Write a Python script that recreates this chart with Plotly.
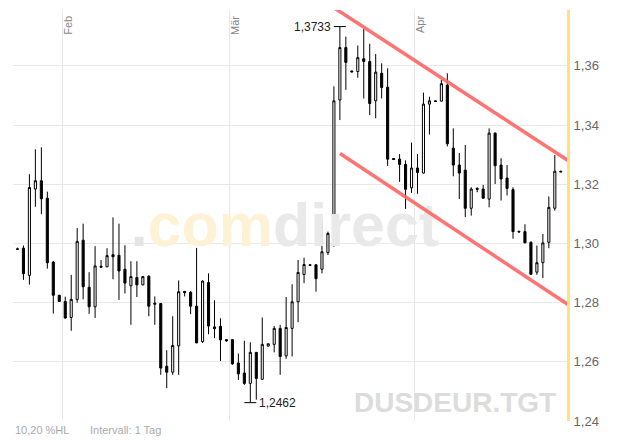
import numpy as np
import pandas as pd
import plotly.graph_objects as go

# ---- data ----
start_date = "2014-01-24 12:00"
opens = [1.2982, 1.2984, 1.2892, 1.3184, 1.3212, 1.3153, 1.2937, 1.2825, 1.2804, 1.2750,
         1.2811, 1.3011, 1.2852, 1.2786, 1.2923, 1.2921, 1.2962, 1.2960, 1.2913, 1.2857,
         1.2885, 1.2860, 1.2889, 1.2798, 1.2797, 1.2585, 1.2565, 1.2654, 1.2838, 1.2835,
         1.2788, 1.2668, 1.2868, 1.2718, 1.2720, 1.2675, 1.2675, 1.2596, 1.2562, 1.2527,
         1.2632, 1.2541, 1.2653, 1.2659, 1.2713, 1.2620, 1.2713, 1.2803, 1.2895, 1.2928,
         1.2928, 1.2913, 1.2969, 1.3030, 1.3485, 1.3662, 1.3583, 1.3581, 1.3624, 1.3615,
         1.3482, 1.3575, 1.3528, 1.3287, 1.3285, 1.3267, 1.3188, 1.3255, 1.3238, 1.3471,
         1.3482, 1.3481, 1.3535, 1.3322, 1.3265, 1.3248, 1.3119, 1.3186, 1.3184, 1.3150,
         1.3373, 1.3265, 1.3221, 1.3182, 1.3041, 1.3040, 1.3004, 1.2903, 1.2935, 1.3004,
         1.3119, 1.3244]
highs = [1.2986, 1.2993, 1.3234, 1.3318, 1.3325, 1.3175, 1.2941, 1.2826, 1.2820, 1.2894,
         1.3052, 1.3067, 1.2903, 1.2991, 1.2944, 1.2984, 1.3088, 1.3067, 1.2994, 1.2940,
         1.2940, 1.2890, 1.2893, 1.2821, 1.2799, 1.2639, 1.2754, 1.2875, 1.2839, 1.2839,
         1.2985, 1.2875, 1.2899, 1.2808, 1.2747, 1.2677, 1.2676, 1.2628, 1.2671, 1.2666,
         1.2633, 1.2750, 1.2662, 1.2721, 1.2725, 1.2819, 1.2862, 1.2944, 1.2952, 1.2930,
         1.2929, 1.3070, 1.3040, 1.3531, 1.3733, 1.3699, 1.3584, 1.3669, 1.3725, 1.3675,
         1.3640, 1.3609, 1.3592, 1.3288, 1.3302, 1.3281, 1.3341, 1.3302, 1.3510, 1.3496,
         1.3483, 1.3553, 1.3575, 1.3389, 1.3306, 1.3333, 1.3190, 1.3190, 1.3198, 1.3389,
         1.3375, 1.3288, 1.3265, 1.3190, 1.3043, 1.3065, 1.3007, 1.2993, 1.3032, 1.3159,
         1.3299, 1.3246]
lows = [1.2979, 1.2877, 1.2861, 1.3124, 1.3099, 1.2915, 1.2763, 1.2803, 1.2746, 1.2705,
        1.2800, 1.2811, 1.2762, 1.2748, 1.2919, 1.2920, 1.2879, 1.2809, 1.2831, 1.2725,
        1.2819, 1.2859, 1.2754, 1.2725, 1.2556, 1.2511, 1.2556, 1.2556, 1.2821, 1.2761,
        1.2663, 1.2664, 1.2693, 1.2680, 1.2603, 1.2668, 1.2590, 1.2539, 1.2522, 1.2462,
        1.2472, 1.2539, 1.2652, 1.2632, 1.2556, 1.2610, 1.2618, 1.2734, 1.2866, 1.2925,
        1.2837, 1.2899, 1.2961, 1.2989, 1.3417, 1.3519, 1.3578, 1.3560, 1.3490, 1.3434,
        1.3423, 1.3490, 1.3262, 1.3282, 1.3208, 1.3117, 1.3171, 1.3168, 1.3237, 1.3368,
        1.3479, 1.3480, 1.3328, 1.3227, 1.3150, 1.3089, 1.3094, 1.3173, 1.3152, 1.3122,
        1.3201, 1.3145, 1.3162, 1.3016, 1.3037, 1.3001, 1.2894, 1.2894, 1.2883, 1.2984,
        1.3111, 1.3241]
closes = [1.2980, 1.2898, 1.3189, 1.3212, 1.3151, 1.2935, 1.2825, 1.2804, 1.2748, 1.2811,
          1.3007, 1.2854, 1.2786, 1.2924, 1.2920, 1.2959, 1.2955, 1.2907, 1.2866, 1.2888,
          1.2860, 1.2888, 1.2788, 1.2795, 1.2579, 1.2565, 1.2655, 1.2837, 1.2834, 1.2788,
          1.2664, 1.2873, 1.2721, 1.2712, 1.2674, 1.2671, 1.2593, 1.2559, 1.2527, 1.2632,
          1.2544, 1.2659, 1.2661, 1.2713, 1.2618, 1.2716, 1.2803, 1.2902, 1.2929, 1.2926,
          1.2881, 1.2972, 1.3034, 1.3482, 1.3662, 1.3612, 1.3580, 1.3628, 1.3615, 1.3473,
          1.3579, 1.3527, 1.3285, 1.3284, 1.3267, 1.3183, 1.3255, 1.3240, 1.3471, 1.3482,
          1.3480, 1.3540, 1.3337, 1.3265, 1.3238, 1.3119, 1.3184, 1.3183, 1.3153, 1.3373,
          1.3263, 1.3218, 1.3186, 1.3040, 1.3039, 1.3002, 1.2896, 1.2935, 1.3002, 1.3122,
          1.3244, 1.3242]

month_starts = ["2014-02-01", "2014-03-01", "2014-04-01"]
month_labels = ["Feb", "Mär", "Apr"]
y_ticks = [1.24, 1.26, 1.28, 1.30, 1.32, 1.34, 1.36]

channel_upper_x = ["2014-03-18 08:00", "2014-04-27 17:00"]
channel_upper_y = [1.3799, 1.3267]
channel_lower_x = ["2014-03-19 12:30", "2014-04-27 05:00"]
channel_lower_y = [1.3304, 1.2787]

x_range = ["2014-01-23 18:00", "2014-04-26 13:00"]
y_range = [1.24, 1.3789]

watermark_pos = ("2014-03-10 07:00", 1.3042)
symbol = "DUSDEUR.TGT"
interval_text = "Intervall: 1 Tag"

# ---- figure ----
dates = pd.date_range(start_date, periods=len(opens), freq="D")
FONT = "Arial, Liberation Sans, sans-serif"

fig = go.Figure()

# watermark (behind candles)
fig.add_trace(go.Scatter(
    x=[pd.Timestamp(watermark_pos[0])], y=[watermark_pos[1]], mode="text",
    text=['<b><span style="color:#e4e4e4">.</span><span style="color:#fdf2d6">com</span>'
          '<span style="color:#e9e9e9">direct</span></b>'],
    textfont=dict(family=FONT, size=61), hoverinfo="skip", showlegend=False))

fig.add_trace(go.Candlestick(
    x=dates, open=opens, high=highs, low=lows, close=closes,
    increasing=dict(line=dict(color="black", width=1), fillcolor="white"),
    decreasing=dict(line=dict(color="black", width=1), fillcolor="black"),
    whiskerwidth=0, hoverinfo="skip", showlegend=False))

shapes = []
for xs, ys in [(channel_upper_x, channel_upper_y), (channel_lower_x, channel_lower_y)]:
    shapes.append(dict(type="line", xref="x", yref="y", x0=xs[0], x1=xs[1], y0=ys[0], y1=ys[1],
                       line=dict(color="rgba(255,100,100,0.9)", width=3.5)))

hi_i = int(np.argmax(highs))
lo_i = int(np.argmin(lows))
one_day = pd.Timedelta(days=1)
for i, v in [(hi_i, highs[hi_i]), (lo_i, lows[lo_i])]:
    shapes.append(dict(type="line", xref="x", yref="y", x0=dates[i] - one_day, x1=dates[i] + one_day,
                       y0=v, y1=v, line=dict(color="black", width=1)))

def fmt(v, d=4):
    return f"{v:.{d}f}".replace(".", ",")

annotations = [
    dict(x=dates[hi_i] - one_day, y=highs[hi_i], xref="x", yref="y", text=fmt(highs[hi_i]),
         showarrow=False, xanchor="right", yanchor="middle", xshift=-1,
         font=dict(family=FONT, size=12, color="#222")),
    dict(x=dates[lo_i] + one_day, y=lows[lo_i], xref="x", yref="y", text=fmt(lows[lo_i]),
         showarrow=False, xanchor="left", yanchor="middle", xshift=1,
         font=dict(family=FONT, size=12, color="#222")),
]
for d, lab in zip(month_starts, month_labels):
    annotations.append(dict(x=d, y=1, xref="x", yref="paper", text=lab, textangle=-90,
                            showarrow=False, xanchor="left", yanchor="top", xshift=-3, yshift=-4,
                            font=dict(family=FONT, size=11, color="#888")))

hl = (max(highs) - min(lows)) / min(lows) * 100
annotations.append(dict(x=0, y=0, xref="paper", yref="paper", text=fmt(hl, 2) + " %HL",
                        showarrow=False, xanchor="left", yanchor="top", yshift=-1,
                        font=dict(family=FONT, size=11, color="#aaa")))
annotations.append(dict(x=0.136, y=0, xref="paper", yref="paper", text=interval_text,
                        showarrow=False, xanchor="left", yanchor="top", yshift=-1,
                        font=dict(family=FONT, size=11, color="#aaa")))
annotations.append(dict(x=0.984, y=0, xref="paper", yref="paper", text="<b>" + symbol + "</b>",
                        showarrow=False, xanchor="right", yanchor="bottom", yshift=1,
                        font=dict(family=FONT, size=28, color="#dcdcdc")))

fig.update_layout(
    width=630, height=440,
    margin=dict(l=13, r=63, t=10, b=19),
    paper_bgcolor="white", plot_bgcolor="white",
    separators=",.",
    showlegend=False,
    boxgap=0.5,
    shapes=shapes, annotations=annotations,
    xaxis=dict(type="date", range=x_range, tickvals=month_starts, showticklabels=False,
               showgrid=True, gridcolor="#e8e8e8", gridwidth=1, zeroline=False, showline=False,
               rangeslider=dict(visible=False), ticks=""),
    yaxis=dict(side="right", range=y_range, tickvals=y_ticks, tickformat=".2f",
               showgrid=True, gridcolor="#e8e8e8", gridwidth=1, zeroline=False,
               showline=True, linecolor="#ffe27a", linewidth=3,
               ticks="", ticklabelstandoff=1,
               tickfont=dict(family=FONT, size=13, color="#666")),
)

fig.write_html("out.html", config={"displayModeBar": False},
               post_script="document.body.style.margin='0';document.body.style.overflow='hidden';")
